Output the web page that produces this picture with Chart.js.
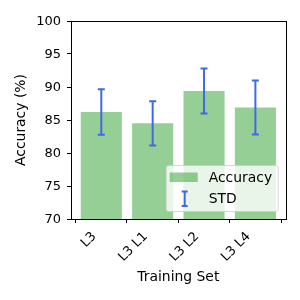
<!DOCTYPE html>
<html>
<head>
<meta charset="utf-8">
<script src="https://cdn.jsdelivr.net/npm/chart.js@4.4.0/dist/chart.umd.min.js"></script>
<style>
    html, body { margin: 0; padding: 0; background: #fff; }
</style>
</head>
<body>
<canvas id="myChart" width="300" height="300"></canvas>
<script>
const categories = ['L3', 'L3 L1', 'L3 L2', 'L3 L4']
const accuracy = [86.2, 84.5, 89.4, 86.9]
const stdDev = [3.45, 3.35, 3.4, 4.1]
const yTicks = [70, 75, 80, 85, 90, 95, 100]

const barColor = 'rgba(44, 160, 44, 0.5)'
const errColor = 'royalblue'
const fontFamily = '"DejaVu Sans", sans-serif'

// error bars drawn on top of the bars, from the y scale
const errorBars = {
    id: 'errorBars',
    afterDatasetsDraw(chart) {
        const ctx = chart.ctx
        const y = chart.scales.y
        const meta = chart.getDatasetMeta(0)
        ctx.save()
        ctx.strokeStyle = errColor
        ctx.lineWidth = 2
        meta.data.forEach((bar, i) => {
            const top = y.getPixelForValue(accuracy[i] + stdDev[i])
            const bot = y.getPixelForValue(accuracy[i] - stdDev[i])
            ctx.beginPath()
            ctx.moveTo(bar.x, top)
            ctx.lineTo(bar.x, bot)
            ctx.moveTo(bar.x - 3.5, top)
            ctx.lineTo(bar.x + 3.5, top)
            ctx.moveTo(bar.x - 3.5, bot)
            ctx.lineTo(bar.x + 3.5, bot)
            ctx.stroke()
        })
        ctx.restore()
    }
}

// box round the plot area, then the legend in the lower right corner
const frameAndLegend = {
    id: 'frameAndLegend',
    afterDraw(chart) {
        const {ctx, chartArea} = chart
        ctx.save()
        ctx.strokeStyle = '#000'
        ctx.lineWidth = 1
        ctx.strokeRect(Math.round(chartArea.left) + 0.5, Math.round(chartArea.top) + 0.5,
            Math.round(chartArea.right - chartArea.left), Math.round(chartArea.bottom - chartArea.top))

        const w = 112, h = 46
        const x = chartArea.right - 7.5 - w
        const y0 = chartArea.bottom - 7.5 - h
        ctx.beginPath()
        ctx.roundRect(x, y0, w, h, 2.5)
        ctx.fillStyle = 'rgba(255, 255, 255, 0.8)'
        ctx.fill()
        ctx.strokeStyle = 'rgba(204, 204, 204, 0.8)'
        ctx.stroke()

        ctx.fillStyle = barColor
        ctx.fillRect(x + 3.5, y0 + 7, 28, 9.5)

        const ex = x + 18.5
        ctx.strokeStyle = errColor
        ctx.lineWidth = 2
        ctx.beginPath()
        ctx.moveTo(ex, y0 + 26)
        ctx.lineTo(ex, y0 + 40.5)
        ctx.moveTo(ex - 3, y0 + 26)
        ctx.lineTo(ex + 3, y0 + 26)
        ctx.moveTo(ex - 3, y0 + 40.5)
        ctx.lineTo(ex + 3, y0 + 40.5)
        ctx.stroke()

        ctx.fillStyle = '#000'
        ctx.font = '13.9px ' + fontFamily
        ctx.textBaseline = 'middle'
        ctx.fillText(chart.data.datasets[0].label, x + 42.5, y0 + 12.5)
        ctx.fillText('STD', x + 42.5, y0 + 34)
        ctx.restore()
    }
}

const tickFont = {family: fontFamily, size: 13}
const titleFont = {family: fontFamily, size: 13.9}

const config = {
    type: 'bar',
    data: {
        datasets: [{
            label: 'Accuracy',
            data: accuracy.map((v, i) => ({x: i, y: v})),
            backgroundColor: barColor,
            borderWidth: 0,
            barPercentage: 0.8,
            categoryPercentage: 1
        }]
    },
    options: {
        responsive: false,
        animation: false,
        layout: {padding: {top: 21, right: 14.3, left: 0, bottom: 0}},
        plugins: {legend: {display: false}, tooltip: {enabled: false}},
        scales: {
            x: {
                type: 'linear',
                min: -0.59,
                max: 3.59,
                offset: false,
                afterBuildTicks: s => { s.ticks = categories.map((c, i) => ({value: i})) },
                afterFit: s => { s.height = 81 },
                grid: {drawOnChartArea: false, tickLength: 4, color: '#000'},
                border: {display: true, color: '#000'},
                ticks: {
                    callback: v => categories[v],
                    maxRotation: 45,
                    minRotation: 45,
                    autoSkip: false,
                    padding: 6,
                    labelOffset: -7,
                    color: '#000',
                    font: tickFont
                },
                title: {display: true, text: 'Training Set', color: '#000', font: titleFont,
                    padding: {top: 0, bottom: 14}}
            },
            y: {
                min: 70,
                max: 100,
                afterBuildTicks: s => { s.ticks = yTicks.map(v => ({value: v})) },
                afterFit: s => { s.width = 71 },
                grid: {drawOnChartArea: false, tickLength: 4, color: '#000'},
                border: {display: true, color: '#000'},
                ticks: {padding: 6, labelOffset: 0.5, color: '#000', font: tickFont},
                title: {display: true, text: 'Accuracy (%)', color: '#000', font: titleFont,
                    padding: {top: 13.4, bottom: 0}}
            }
        }
    },
    plugins: [errorBars, frameAndLegend]
}

let myChart = new Chart(document.getElementById('myChart'), config)
</script>
</body>
</html>
